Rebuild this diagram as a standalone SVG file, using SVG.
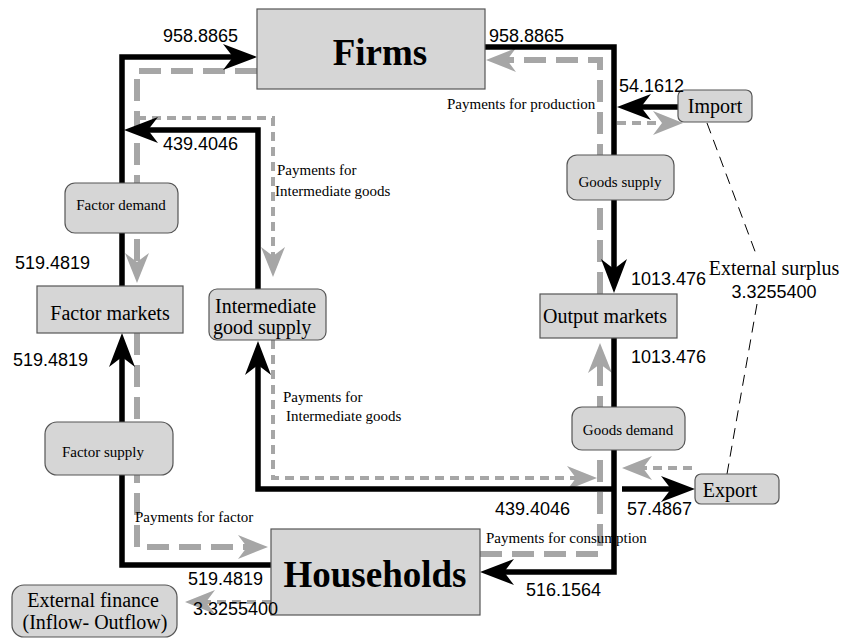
<svg xmlns="http://www.w3.org/2000/svg" width="844" height="639" viewBox="0 0 844 639">
<style>
.box{fill:#d6d6d6;stroke:#555;stroke-width:1.2}
.blk{fill:none;stroke:#000;stroke-width:5.5;marker-end:url(#ab)}
.gth{fill:none;stroke:#a6a6a6;stroke-width:6;stroke-dasharray:22 10;marker-end:url(#ag)}
.gtn{fill:none;stroke:#a6a6a6;stroke-width:4;stroke-dasharray:9 6;marker-end:url(#ag)}
.dl{fill:none;stroke:#000;stroke-width:1;stroke-dasharray:11 7}
.num{font-family:"Liberation Sans",Arial,sans-serif;font-size:18px;fill:#000}
.lab{font-family:"Liberation Serif","Times New Roman",serif;font-size:20px;fill:#000}
.sm{font-family:"Liberation Serif","Times New Roman",serif;font-size:15px;fill:#000}
.big{font-family:"Liberation Serif","Times New Roman",serif;font-size:37px;font-weight:bold;fill:#000}
</style>
<defs>
<marker id="ab" markerUnits="userSpaceOnUse" markerWidth="34" markerHeight="26" refX="20" refY="13" orient="auto"><path d="M0,0 L34,13 L0,26 L10,13 z" fill="#000"/></marker>
<marker id="ag" markerUnits="userSpaceOnUse" markerWidth="30" markerHeight="24" refX="16" refY="12" orient="auto"><path d="M0,0 L30,12 L0,24 L9,12 z" fill="#a6a6a6"/></marker>
</defs>
<rect width="844" height="639" fill="#fff"/>
<g id="connectors">
<path class="gth" d="M257,71 H137 V269"/>
<path class="gth" d="M600,294 V60 H500"/>
<path class="gth" d="M137,333 V547 H254"/>
<path class="gth" d="M480,554 H600 V357"/>
<path class="gtn" d="M137,118 H273 V263"/>
<path class="gtn" d="M273,340 V478 H583"/>
<path class="gtn" d="M617,123 H669"/>
<path class="gtn" d="M692,468 H636"/>
<path class="gtn" d="M271,602 H199"/>
<path class="blk" d="M122,286 V57 H243"/>
<path class="blk" d="M485,47 H614 V279"/>
<path class="blk" d="M614,338 V572 H494"/>
<path class="blk" d="M271,565 H122 V347"/>
<path class="blk" d="M258,289 V130 H138"/>
<path class="blk" d="M614,489 H258 V355"/>
<path class="blk" d="M678,107 H631"/>
<path class="blk" d="M622,489 H681"/>
<path class="dl" d="M707,123 L756,254"/>
<path class="dl" d="M757,304 L727,474"/>
</g>
<g id="firms"><rect class="box" x="257" y="9" width="228" height="80"/><text class="big" x="380" y="65" text-anchor="middle">Firms</text></g>
<g id="import"><rect class="box" x="678" y="90" width="74" height="32" rx="6"/><text class="lab" x="715" y="113" text-anchor="middle">Import</text></g>
<g id="goods-supply"><rect class="box" x="567" y="155" width="107" height="45" rx="10"/><text class="sm" x="620" y="187" text-anchor="middle">Goods supply</text></g>
<g id="factor-demand"><rect class="box" x="65" y="183" width="113" height="50" rx="10"/><text class="sm" x="121" y="210" text-anchor="middle">Factor demand</text></g>
<g id="factor-markets"><rect class="box" x="37" y="286" width="146" height="47"/><text class="lab" x="110" y="320" text-anchor="middle">Factor markets</text></g>
<g id="intermediate-supply"><rect class="box" x="209" y="289" width="117" height="51" rx="8"/><text class="lab" x="215" y="313">Intermediate</text><text class="lab" x="213" y="334">good supply</text></g>
<g id="output-markets"><rect class="box" x="540" y="294" width="137" height="44"/><text class="lab" x="605" y="323" text-anchor="middle">Output markets</text></g>
<g id="goods-demand"><rect class="box" x="572" y="407" width="113" height="43" rx="10"/><text class="sm" x="628" y="435" text-anchor="middle">Goods demand</text></g>
<g id="factor-supply"><rect class="box" x="45" y="422" width="128" height="53" rx="12"/><text class="sm" x="103" y="457" text-anchor="middle">Factor supply</text></g>
<g id="export"><rect class="box" x="695" y="474" width="84" height="30" rx="6"/><text class="lab" x="730" y="497" text-anchor="middle">Export</text></g>
<g id="households"><rect class="box" x="271" y="529" width="209" height="86"/><text class="big" x="375" y="587" text-anchor="middle">Households</text></g>
<g id="external-finance"><rect class="box" x="12" y="585" width="165" height="52" rx="12"/><text class="lab" x="93" y="607" text-anchor="middle">External finance</text><text class="lab" x="95" y="629" text-anchor="middle">(Inflow- Outflow)</text></g>
<g id="labels">
<text class="num" x="163" y="42">958.8865</text>
<text class="num" x="489" y="42">958.8865</text>
<text class="num" x="619" y="92">54.1612</text>
<text class="num" x="163" y="150">439.4046</text>
<text class="num" x="15" y="269">519.4819</text>
<text class="num" x="13" y="366">519.4819</text>
<text class="num" x="631" y="285">1013.476</text>
<text class="num" x="631" y="363">1013.476</text>
<text class="lab" x="774" y="275" text-anchor="middle">External surplus</text>
<text class="num" x="774" y="298" text-anchor="middle">3.3255400</text>
<text class="num" x="188" y="585">519.4819</text>
<text class="num" x="193" y="615">3.3255400</text>
<text class="num" x="495" y="515">439.4046</text>
<text class="num" x="526" y="596">516.1564</text>
<text class="num" x="627" y="515">57.4867</text>
<text class="sm" x="447" y="109">Payments for production</text>
<text class="sm" x="277" y="175">Payments for</text>
<text class="sm" x="275" y="196">Intermediate goods</text>
<text class="sm" x="283" y="402">Payments for</text>
<text class="sm" x="286" y="421">Intermediate goods</text>
<text class="sm" x="135" y="522">Payments for factor</text>
<text class="sm" x="486" y="543">Payments for consumption</text>
</g>
</svg>
